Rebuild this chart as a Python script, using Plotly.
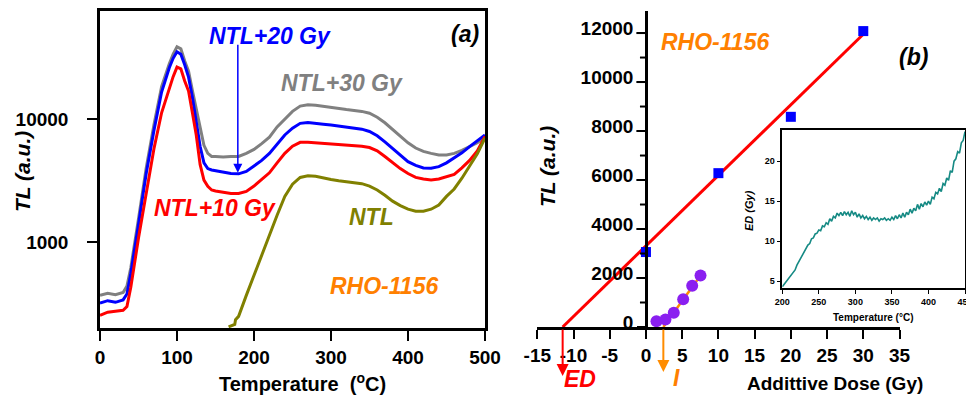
import math
import plotly.graph_objects as go

W, H = 966, 399
FONT = "Liberation Sans, Arial, sans-serif"

# ---------------- Panel (a) data: TL glow curves (log scale) ----------------
temp_a = [0, 10, 20, 30, 35, 40, 50, 60, 70, 80, 90, 95, 100, 105, 110, 115, 120, 125,
          130, 135, 140, 145, 150, 160, 170, 180, 190, 200, 210, 220, 230, 240, 250, 260,
          270, 280, 290, 300, 310, 320, 330, 340, 350, 360, 370, 380, 390, 400, 410, 420,
          430, 440, 450, 460, 470, 480, 490, 500]

tl_ntl30 = [370, 385, 375, 390, 440, 620, 1550, 4000, 8900, 18300, 28000, 33500, 38500, 37000,
            29500, 24400, 17000, 11900, 8400, 6100, 5250, 4950, 4950, 4900, 4950, 4950, 5250,
            5650, 6300, 7100, 8600, 10000, 11500, 12700, 13000, 12900, 12600, 12300, 12100,
            11900, 11700, 11500, 11100, 10300, 9300, 8200, 7150, 6400, 5800, 5450, 5250, 5100,
            5100, 5250, 5550, 5950, 6400, 7100]

tl_ntl20 = [320, 335, 325, 340, 380, 560, 1400, 3600, 8000, 16500, 26000, 31000, 35000, 33500,
            27500, 21800, 15000, 9500, 6000, 4400, 3950, 3850, 3800, 3700, 3600, 3580, 3750,
            4150, 4600, 5250, 6300, 7400, 8400, 9200, 9350, 9250, 9050, 8900, 8750, 8600, 8450,
            8250, 7900, 7300, 6500, 5750, 5050, 4500, 4200, 4000, 3980, 4100, 4400, 4800, 5300,
            5950, 6600, 7400]

tl_ntl10 = [255, 270, 275, 280, 300, 430, 1080, 2550, 5700, 11200, 18000, 22000, 26300, 25500,
            20300, 16800, 11200, 7400, 4270, 3190, 2840, 2650, 2600, 2550, 2480, 2480, 2580,
            2850, 3250, 3650, 4400, 5250, 6000, 6450, 6450, 6380, 6300, 6250, 6200, 6150, 6100,
            6000, 5850, 5500, 4950, 4400, 3950, 3600, 3350, 3250, 3200, 3250, 3380, 3550, 4000,
            4600, 5500, 7200]

temp_ntl = [167, 172, 175, 176, 180, 190, 200, 210, 220, 230, 240, 250, 260, 270, 280, 290,
            300, 310, 320, 330, 340, 350, 360, 370, 380, 390, 400, 410, 420, 430, 440, 450,
            460, 470, 480, 490, 500]
tl_ntl = [205, 210, 215, 235, 250, 370, 540, 780, 1130, 1650, 2350, 2950, 3350, 3450, 3420,
          3300, 3220, 3150, 3100, 3050, 2980, 2850, 2650, 2400, 2150, 1980, 1850, 1780, 1780,
          1850, 2000, 2350, 2700, 3300, 4100, 5200, 7000]

x_ticks_a = [0, 100, 200, 300, 400, 500]
x_minor_a = [50, 150, 250, 350, 450]
y_ticks_a = [1000, 10000]
y_ticklabels_a = ["1000", "10000"]
y_minor_a = [200, 300, 400, 500, 600, 700, 800, 900, 2000, 3000, 4000, 5000, 6000, 7000,
             8000, 9000, 20000, 30000, 40000, 50000, 60000, 70000]
x_range_a = [0, 500]
y_range_a = [200, 75000]

# arrow in panel (a) pointing at NTL+20 Gy curve
arrow20_temp = 179
arrow20_from = 41000
arrow20_to = 3650

# ---------------- Panel (b) data: additive dose ----------------
dose_pts = [0, 10, 20, 30]
tl_pts = [3060, 6280, 8580, 12080]
fit_dose = [-11.5, 30]
fit_tl = [0, 11950]
ed_value = -11.5

supra_dose = [1.45, 2.69, 3.84, 5.14, 6.38, 7.53]
supra_tl = [236, 306, 580, 1130, 1680, 2100]
i_line_dose = [2.4, 7.53]
i_line_tl = [0, 2100]
i_value = 2.4

x_ticks_b = [-15, -10, -5, 0, 5, 10, 15, 20, 25, 30, 35]
x_ticklabels_b = ["-15", "-10", "-5", "0", "5", "10", "15", "20", "25", "30", "35"]
x_minor_b = [-12.5, -7.5, -2.5, 2.5, 7.5, 12.5, 17.5, 22.5, 27.5, 32.5]
y_ticks_b = [0, 2000, 4000, 6000, 8000, 10000, 12000]
y_ticklabels_b = ["0", "2000", "4000", "6000", "8000", "10000", "12000"]
y_minor_b = [1000, 3000, 5000, 7000, 9000, 11000]
x_range_b = [-15, 35]
y_range_b = [0, 12900]

# ---------------- Inset data: ED plateau ----------------
temp_inset = [200 + 2.5 * i for i in range(101)]
ed_inset = [4.3, 4.6, 4.9, 5.2, 5.5, 5.8, 6.1, 6.4, 7.0, 7.4, 7.9, 8.2, 8.7, 9.0, 9.5, 9.7,
            10.3, 10.4, 10.9, 11.0, 11.4, 11.3, 11.9, 11.8, 12.3, 12.1, 12.8, 12.5, 13.1, 12.9,
            13.5, 13.2, 13.6, 13.2, 13.7, 13.3, 13.6, 13.1, 13.8, 13.3, 13.6, 13.0, 13.4, 12.9,
            13.2, 12.8, 13.1, 12.7, 13.0, 12.6, 12.9, 12.7, 12.9, 12.5, 12.8, 12.7, 12.9, 12.6,
            12.8, 12.6, 13.0, 12.7, 13.2, 12.8, 13.3, 12.9, 13.5, 13.0, 13.6, 13.3, 14.0, 13.5,
            14.1, 13.8, 14.6, 14.0, 14.7, 14.3, 14.9, 14.5, 15.0, 14.6, 15.5, 15.3, 16.1, 15.9,
            16.6, 16.2, 17.2, 17.0, 17.9, 17.6, 18.8, 18.6, 20.0, 20.3, 21.2, 21.0, 22.3, 22.6,
            23.7]
x_ticks_in = [200, 250, 300, 350, 400, 450]
x_minor_in = [225, 275, 325, 375, 425]
y_ticks_in = [5, 10, 15, 20]
y_minor_in = [7.5, 12.5, 17.5, 22.5]
x_range_in = [200, 450]
y_range_in = [4.1, 23.9]

# pixel boxes of the three plot areas (left, right, top, bottom)
box_a = (100, 485, 11, 328.3)
box_b = (537.3, 899.5, 11, 327)
box_in = (782.3, 965, 130, 288.3)


def px(x):
    return x / W


def py(y):
    return 1 - y / H


fig = go.Figure()

# Panel (a) traces
for t, v, c in [(temp_a, tl_ntl30, "#808080"), (temp_a, tl_ntl20, "#0000ff"),
                (temp_a, tl_ntl10, "#ff0000"), (temp_ntl, tl_ntl, "#808000")]:
    fig.add_trace(go.Scatter(x=t, y=v, mode="lines", line=dict(color=c, width=3),
                             xaxis="x", yaxis="y", showlegend=False, hoverinfo="skip"))

# Panel (b) traces
fig.add_trace(go.Scatter(x=fit_dose, y=fit_tl, mode="lines", line=dict(color="#ff0000", width=3),
                         xaxis="x2", yaxis="y2", showlegend=False, cliponaxis=False))
fig.add_trace(go.Scatter(x=dose_pts, y=tl_pts, mode="markers",
                         marker=dict(symbol="square", size=10, color="#0000ff"),
                         xaxis="x2", yaxis="y2", showlegend=False, cliponaxis=False))
fig.add_trace(go.Scatter(x=i_line_dose, y=i_line_tl, mode="lines",
                         line=dict(color="#ff8c00", width=2.5),
                         xaxis="x2", yaxis="y2", showlegend=False, cliponaxis=False))
fig.add_trace(go.Scatter(x=supra_dose, y=supra_tl, mode="markers",
                         marker=dict(symbol="circle", size=12, color="#8a1ff0"),
                         xaxis="x2", yaxis="y2", showlegend=False, cliponaxis=False))

# Inset trace
fig.add_trace(go.Scatter(x=temp_inset, y=ed_inset, mode="lines",
                         line=dict(color="#168a84", width=1.6),
                         xaxis="x3", yaxis="y3", showlegend=False))


# ---- tick marks drawn as line-shaped markers placed just outside each axis ----
def tick_marks(xa, ya, vals, axis_dir, length, width, box, xr, yr, ylog=False, x_at=None):
    left, right, top, bottom = box
    if axis_dir == "x":  # vertical ticks below the bottom edge
        if ylog:
            lo, hi = math.log10(yr[0]), math.log10(yr[1])
            yv = 10 ** (lo - (length / 2) * (hi - lo) / (bottom - top))
        else:
            yv = yr[0] - (length / 2) * (yr[1] - yr[0]) / (bottom - top)
        xs, ys, sym = vals, [yv] * len(vals), "line-ns"
    else:  # horizontal ticks left of the axis line
        base = xr[0] if x_at is None else x_at
        xv = base - (length / 2) * (xr[1] - xr[0]) / (right - left)
        xs, ys, sym = [xv] * len(vals), vals, "line-ew"
    fig.add_trace(go.Scatter(x=xs, y=ys, mode="markers", xaxis=xa, yaxis=ya,
                             marker=dict(symbol=sym, size=length, color="black",
                                         line=dict(color="black", width=width)),
                             cliponaxis=False, showlegend=False, hoverinfo="skip"))


tick_marks("x", "y", x_ticks_a, "x", 10, 2, box_a, x_range_a, y_range_a, ylog=True)
tick_marks("x", "y", x_minor_a, "x", 6, 2, box_a, x_range_a, y_range_a, ylog=True)
tick_marks("x", "y", y_ticks_a, "y", 10, 2, box_a, x_range_a, y_range_a)
tick_marks("x", "y", y_minor_a, "y", 6, 2, box_a, x_range_a, y_range_a)
tick_marks("x2", "y2", x_ticks_b, "x", 9, 2, box_b, x_range_b, y_range_b)
tick_marks("x2", "y2", x_minor_b, "x", 6, 2, box_b, x_range_b, y_range_b)
tick_marks("x2", "y2", y_ticks_b[1:], "y", 8, 2, box_b, x_range_b, y_range_b, x_at=0)
tick_marks("x2", "y2", y_minor_b, "y", 5, 2, box_b, x_range_b, y_range_b, x_at=0)
tick_marks("x3", "y3", x_ticks_in, "x", 4, 1.2, box_in, x_range_in, y_range_in)
tick_marks("x3", "y3", x_minor_in, "x", 3, 1.2, box_in, x_range_in, y_range_in)
tick_marks("x3", "y3", y_ticks_in, "y", 4, 1.2, box_in, x_range_in, y_range_in)
tick_marks("x3", "y3", y_minor_in, "y", 3, 1.2, box_in, x_range_in, y_range_in)

tickfont = dict(family=FONT, size=19, color="black", weight="bold")
small_tf = dict(family=FONT, size=9, color="black", weight="bold")

xa_dom = [px(box_b[0]), px(box_b[1])]
y2_pos = xa_dom[0] + (0 - x_range_b[0]) / (x_range_b[1] - x_range_b[0]) * (xa_dom[1] - xa_dom[0])

common = dict(showgrid=False, zeroline=False, automargin=False, tickcolor="black",
              linecolor="black")

log_rng = [math.log10(y_range_a[0]), math.log10(y_range_a[1])]

fig.update_layout(
    template="none",
    width=W, height=H, autosize=False,
    margin=dict(l=0, r=0, t=0, b=0, pad=0),
    paper_bgcolor="white", plot_bgcolor="white",
    showlegend=False,
    xaxis=dict(domain=[px(box_a[0]), px(box_a[1])], range=x_range_a, anchor="y",
               tickmode="array", tickvals=x_ticks_a, ticks="outside", ticklen=10, tickwidth=2,
               tickfont=tickfont,
               showline=True, linewidth=2.5, mirror=True, **common),
    yaxis=dict(domain=[py(box_a[3]), py(box_a[2])], type="log", range=log_rng, anchor="x",
               tickmode="array", tickvals=y_ticks_a, ticktext=y_ticklabels_a,
               ticks="outside", ticklen=10, tickwidth=2, tickfont=tickfont,
               ticklabelstandoff=15,
               showline=True, linewidth=2.5, mirror=True, **common),
    xaxis2=dict(domain=xa_dom, range=x_range_b, anchor="y2",
                tickmode="array", tickvals=x_ticks_b, ticktext=x_ticklabels_b,
                ticks="outside", ticklen=9, tickwidth=2, tickfont=tickfont,
                showline=True, linewidth=2.5, **common),
    yaxis2=dict(domain=[py(box_b[3]), py(box_b[2])], range=y_range_b, anchor="free",
                position=y2_pos,
                tickmode="array", tickvals=y_ticks_b, ticktext=y_ticklabels_b,
                ticks="outside", ticklen=8, tickwidth=2, tickfont=tickfont,
                ticklabelshift=-5,
                showline=True, linewidth=2.5, **common),
    xaxis3=dict(domain=[px(box_in[0]), px(box_in[1])], range=x_range_in, anchor="y3",
                tickmode="array", tickvals=x_ticks_in, ticks="outside", ticklen=4, tickwidth=1.2,
                tickfont=small_tf, ticklabeloverflow="allow",
                showline=True, linewidth=1.5, mirror=True, **common),
    yaxis3=dict(domain=[py(box_in[3]), py(box_in[2])], range=y_range_in, anchor="x3",
                tickmode="array", tickvals=y_ticks_in, ticks="outside", ticklen=4, tickwidth=1.2,
                tickfont=small_tf,
                showline=True, linewidth=1.5, mirror=True, **common),
)


def label(text, x, y, color, size=23, angle=0, italic=True, bold=True):
    fig.add_annotation(text=text, xref="paper", yref="paper", x=px(x), y=py(y),
                       xanchor="center", yanchor="middle", showarrow=False, textangle=angle,
                       font=dict(family=FONT, size=size, color=color,
                                 weight="bold" if bold else "normal",
                                 style="italic" if italic else "normal"))


# Panel (a) labels
label("NTL+20 Gy", 270, 36, "#0000ff")
label("NTL+30 Gy", 342, 83, "#808080")
label("NTL+10 Gy", 215, 208, "#ff0000")
label("NTL", 371, 217, "#808000")
label("RHO-1156", 384, 286, "#ff8000")
label("(a)", 465, 34, "black")
label("Temperature  (<sup>o</sup>C)", 302, 382, "black", size=20, italic=False)
label("TL (a.u.)", 22, 172, "black", size=21, angle=-90)

# Panel (b) labels
label("RHO-1156", 715, 42, "#ff8000")
label("(b)", 913, 57, "black")
label("ED", 580, 379, "#ff0000")
label("I", 676, 378, "#ff8000")
label("Addittive Dose (Gy)", 835, 383, "black", size=19, italic=False)
label("TL (a.u.)", 547, 167, "black", size=21, angle=-90)

# Inset labels
label("Temperature (°C)", 873, 317, "black", size=10, italic=False)
label("ED (Gy)", 749, 211, "black", size=11, angle=-90)

# Blue arrow in panel (a)
fig.add_annotation(x=arrow20_temp, y=math.log10(arrow20_to), xref="x", yref="y",
                   ax=arrow20_temp, ay=math.log10(arrow20_from), axref="x", ayref="y",
                   text="", showarrow=True, arrowhead=2, arrowsize=1.2, arrowwidth=1.5,
                   arrowcolor="#0000ff")
# ED and I arrows in panel (b)
fig.add_annotation(x=ed_value, y=py(376), xref="x2", yref="paper", ax=0, ay=-48,
                   text="", showarrow=True, arrowhead=2, arrowsize=1.2, arrowwidth=2,
                   arrowcolor="#ff0000")
fig.add_annotation(x=i_value, y=py(372), xref="x2", yref="paper", ax=0, ay=-44,
                   text="", showarrow=True, arrowhead=2, arrowsize=1.2, arrowwidth=2,
                   arrowcolor="#ff8c00")

fig.write_html("out.html", config={"displayModeBar": False},
               post_script="document.body.style.margin='0';document.body.style.overflow='hidden';")
